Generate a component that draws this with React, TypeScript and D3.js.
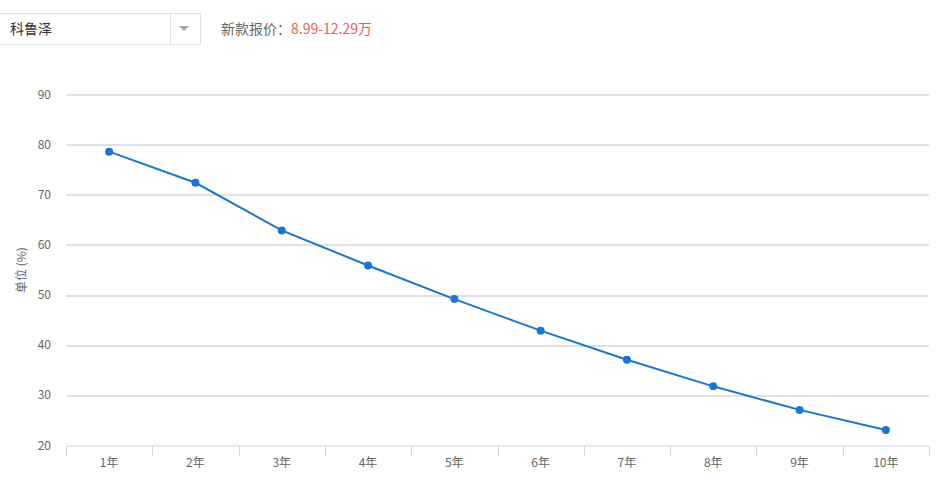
import React, { useEffect, useRef } from 'react';
import * as d3 from 'd3';

const years = ['1年', '2年', '3年', '4年', '5年', '6年', '7年', '8年', '9年', '10年'];
const retention = [78.6, 72.4, 62.9, 55.9, 49.2, 42.9, 37.1, 31.8, 27.1, 23.1];
const yTicks = [20, 30, 40, 50, 60, 70, 80, 90];

const W = 947;
const H = 497;
const margin = { top: 94.5, right: 18, bottom: 51.5, left: 66 };

const FONT = '"Noto Sans CJK SC", "Noto Sans", sans-serif';

const App: React.FC = () => {
  const ref = useRef<SVGSVGElement>(null);

  useEffect(() => {
    const svg = d3.select(ref.current);
    svg.selectAll('*').remove();

    const chartW = W - margin.left - margin.right;
    const chartH = H - margin.top - margin.bottom;

    // dropdown + price
    const top = svg.append('g');
    top.append('rect')
      .attr('x', -0.5).attr('y', 13.5).attr('width', 201).attr('height', 31)
      .attr('fill', '#fff').attr('stroke', '#e0e0e0');
    top.append('line')
      .attr('x1', 170.5).attr('x2', 170.5).attr('y1', 13.5).attr('y2', 44.5)
      .attr('stroke', '#e0e0e0');
    top.append('path')
      .attr('d', 'M179,26 L189,26 L184,31 Z')
      .attr('fill', '#9aa3b0');
    top.append('text')
      .attr('x', 10).attr('y', 33.5)
      .attr('font-family', FONT).attr('font-size', 14).attr('fill', '#333')
      .text('科鲁泽');
    const price = top.append('text')
      .attr('x', 221).attr('y', 33.5)
      .attr('font-family', FONT).attr('font-size', 14);
    price.append('tspan').attr('fill', '#666').text('新款报价：');
    price.append('tspan').attr('fill', '#f0624d').text('8.99-12.29万');

    const g = svg.append('g').attr('transform', `translate(${margin.left},${margin.top})`);

    const x = d3.scaleBand<string>().domain(years).range([0, chartW]);
    const y = d3.scaleLinear().domain([20, 90]).range([chartH, 0]);

    // gridlines
    g.append('g')
      .selectAll('line')
      .data(yTicks.filter(t => t !== 20))
      .enter()
      .append('line')
      .attr('x1', 0).attr('x2', chartW)
      .attr('y1', d => Math.round(y(d)) + 0.5).attr('y2', d => Math.round(y(d)) + 0.5)
      .attr('stroke', '#c4c4c4');

    // y labels
    g.append('g')
      .selectAll('text')
      .data(yTicks)
      .enter()
      .append('text')
      .attr('x', -15).attr('y', d => y(d) + 4)
      .attr('text-anchor', 'end')
      .attr('font-family', FONT).attr('font-size', 12).attr('fill', '#666')
      .text(d => d);

    // x axis
    const xAxis = g.append('g').attr('transform', `translate(0,${Math.round(chartH) + 0.5})`);
    xAxis.append('line')
      .attr('x1', 0).attr('x2', chartW)
      .attr('stroke', '#ccd6eb');
    const edges = years.map(d => x(d)!).concat([chartW]);
    xAxis.selectAll('line.tick')
      .data(edges)
      .enter()
      .append('line')
      .attr('class', 'tick')
      .attr('x1', d => Math.round(d) + 0.5).attr('x2', d => Math.round(d) + 0.5)
      .attr('y1', 0).attr('y2', 10)
      .attr('stroke', '#ccd6eb');
    xAxis.selectAll('text')
      .data(years)
      .enter()
      .append('text')
      .attr('x', d => x(d)! + x.bandwidth() / 2)
      .attr('y', 21)
      .attr('text-anchor', 'middle')
      .attr('font-family', FONT).attr('font-size', 12).attr('fill', '#666')
      .text(d => d);

    // y title
    svg.append('text')
      .attr('transform', `translate(26,${margin.top + chartH / 2}) rotate(-90)`)
      .attr('text-anchor', 'middle')
      .attr('font-family', FONT).attr('font-size', 12).attr('fill', '#666')
      .text('单位 (%)');

    const cx = (i: number) => x(years[i])! + x.bandwidth() / 2;

    const line = d3.line<number>()
      .x((_, i) => cx(i))
      .y(d => y(d));

    g.append('path')
      .datum(retention)
      .attr('fill', 'none')
      .attr('stroke', '#1a76cf')
      .attr('stroke-width', 2)
      .attr('d', line);

    g.selectAll('circle')
      .data(retention)
      .enter()
      .append('circle')
      .attr('cx', (_, i) => cx(i))
      .attr('cy', d => y(d))
      .attr('r', 4)
      .attr('fill', '#1a76cf');
  }, []);

  return (
    <svg
      ref={ref}
      width={W}
      height={H}
      style={{ position: 'absolute', left: 0, top: 0, background: '#fff' }}
    />
  );
};

export default App;
